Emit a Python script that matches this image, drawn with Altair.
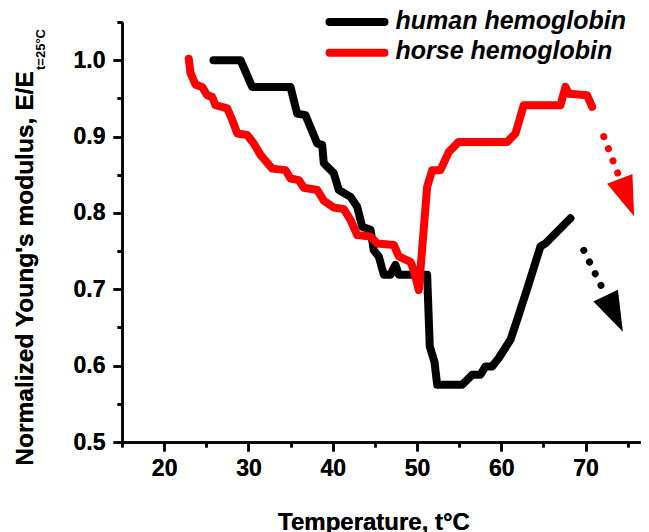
import altair as alt
import pandas as pd

# ---- data ----
human_t = [25.85, 29.06, 30.44, 34.99, 35.78, 36.77, 38.16, 38.75, 38.94, 40.12,
           40.72, 42.11, 42.90, 43.49, 44.48, 44.87, 45.46, 46.06, 46.85, 47.44,
           47.84, 51.20, 51.51, 52.07, 52.39, 55.36, 56.54, 57.53, 58.12, 58.91,
           59.70, 61.09, 61.88, 63.22, 64.64, 65.23, 68.20]
human_e = [1.000, 1.000, 0.965, 0.965, 0.930, 0.928, 0.891, 0.889, 0.865, 0.852,
           0.830, 0.821, 0.808, 0.782, 0.778, 0.751, 0.743, 0.719, 0.719, 0.732,
           0.719, 0.719, 0.625, 0.605, 0.575, 0.575, 0.588, 0.588, 0.599, 0.599,
           0.610, 0.634, 0.660, 0.706, 0.756, 0.760, 0.793]

horse_t = [22.92, 23.13, 23.72, 24.51, 25.11, 25.70, 26.09, 27.48, 28.07, 28.67,
           29.85, 30.63, 31.43, 32.82, 34.39, 34.99, 35.97, 36.57, 38.16, 38.94,
           40.12, 41.31, 42.11, 42.90, 44.48, 45.27, 47.24, 47.84, 49.22, 49.61,
           50.21, 51.20, 51.80, 52.78, 53.77, 54.95, 60.69, 61.68, 62.66, 67.02,
           67.61, 68.00, 70.18, 70.78]
horse_e = [1.002, 0.983, 0.968, 0.965, 0.954, 0.952, 0.941, 0.937, 0.922, 0.904,
           0.902, 0.891, 0.876, 0.858, 0.856, 0.845, 0.843, 0.833, 0.830, 0.816,
           0.807, 0.805, 0.791, 0.771, 0.769, 0.760, 0.758, 0.743, 0.736, 0.725,
           0.699, 0.834, 0.856, 0.856, 0.880, 0.893, 0.893, 0.904, 0.941, 0.941,
           0.965, 0.956, 0.954, 0.939]

series_names = ["human hemoglobin", "horse hemoglobin"]
series_colors = ["#000000", "#FF0000"]

# trend arrows (dotted shaft + head), one per series
arrow_t0 = [69.78, 72.15]
arrow_e0 = [0.751, 0.900]
arrow_t1 = [71.96, 73.81]
arrow_e1 = [0.702, 0.852]
head_t = [73.40, 74.90]
head_e = [0.668, 0.820]
head_angle = [154.5, 159.0]

x_major = [20, 30, 40, 50, 60, 70]
x_minor = [15, 25, 35, 45, 55, 65, 75]
y_major = [0.5, 0.6, 0.7, 0.8, 0.9, 1.0]
y_minor = [0.55, 0.65, 0.75, 0.85, 0.95, 1.05]

FONT = "Liberation Sans"

xscale = alt.Scale(domain=[15, 76.57], nice=False, zero=False)
yscale = alt.Scale(domain=[0.5, 1.05], nice=False, zero=False)

human_df = pd.DataFrame({"t": human_t, "e": human_e, "i": range(len(human_t))})
horse_df = pd.DataFrame({"t": horse_t, "e": horse_e, "i": range(len(horse_t))})

axis_common = dict(domainColor="black", domainWidth=2.5, tickColor="black", tickWidth=2.5,
                   labelColor="black", labelFont=FONT, labelFontWeight="bold",
                   labelFontSize=23, grid=False, titleColor="black", titleFont=FONT,
                   titleFontWeight="bold")

x_axis = alt.Axis(values=x_major, format="d", orient="bottom", tickSize=9, labelPadding=6,
                  title="Temperature, t°C", titleFontSize=24, titleX=251.5, titleY=87,
                  titleBaseline="alphabetic", titleAlign="center", **axis_common)
y_axis = alt.Axis(values=y_major, format=".1f", orient="left", tickSize=9, labelPadding=8,
                  title="Normalized Young's modulus, E/E", titleFontSize=24.5,
                  titleAngle=270, titleX=-89.5, titleY=246, titleBaseline="alphabetic",
                  titleAlign="center", **axis_common)

x_axis_minor = alt.Axis(values=x_minor, orient="bottom", tickSize=5, labels=False,
                        domain=False, title="", tickColor="black", tickWidth=2.5, grid=False)
y_axis_minor = alt.Axis(values=y_minor, orient="left", tickSize=5, labels=False,
                        domain=False, title="", tickColor="black", tickWidth=2.5, grid=False)

line_style = dict(strokeWidth=8, strokeJoin="round", strokeCap="round")

human_line = alt.Chart(human_df).mark_line(color=series_colors[0], **line_style).encode(
    x=alt.X("t:Q", scale=xscale, axis=x_axis),
    y=alt.Y("e:Q", scale=yscale, axis=y_axis),
    order="i:Q",
)
horse_line = alt.Chart(horse_df).mark_line(color=series_colors[1], **line_style).encode(
    x=alt.X("t:Q", scale=xscale, axis=x_axis),
    y=alt.Y("e:Q", scale=yscale, axis=y_axis),
    order="i:Q",
)

shaft_rows = []
for k in range(2):
    shaft_rows.append({"s": series_names[k], "t": arrow_t0[k], "e": arrow_e0[k], "i": 0})
    shaft_rows.append({"s": series_names[k], "t": arrow_t1[k], "e": arrow_e1[k], "i": 1})
shaft_df = pd.DataFrame(shaft_rows)
head_df = pd.DataFrame({"s": series_names, "t": head_t, "e": head_e, "a": head_angle})

color_enc = alt.Color("s:N", scale=alt.Scale(domain=series_names, range=series_colors), legend=None)

shafts = alt.Chart(shaft_df).mark_line(strokeWidth=7, strokeCap="round",
                                        strokeDash=[0.1, 12.9]).encode(
    x=alt.X("t:Q", scale=xscale, axis=x_axis_minor),
    y=alt.Y("e:Q", scale=yscale, axis=y_axis_minor),
    detail="s:N",
    order="i:Q",
    color=color_enc,
)
heads = alt.Chart(head_df).mark_point(shape="M0,-1L0.68,1L-0.68,1Z", filled=True, size=1600,
                                      opacity=1, strokeWidth=0).encode(
    x=alt.X("t:Q", scale=xscale, axis=x_axis_minor),
    y=alt.Y("e:Q", scale=yscale, axis=y_axis_minor),
    angle=alt.Angle("a:Q", scale=None),
    color=color_enc,
)

# legend drawn as marks
legend_lines = []
legend_texts = []
leg_y_line = [0, 30.7]
leg_y_text = [6.6, 37.3]
for k in range(2):
    d = pd.DataFrame({"label": [series_names[k]]})
    legend_lines.append(
        alt.Chart(d).mark_rule(color=series_colors[k], strokeWidth=8, strokeCap="round").encode(
            x=alt.value(207.5), x2=alt.value(262.5), y=alt.value(leg_y_line[k]))
    )
    legend_texts.append(
        alt.Chart(d).mark_text(align="left", baseline="alphabetic", font=FONT, fontSize=25,
                               fontWeight="bold", fontStyle="italic", color="black").encode(
            text="label:N", x=alt.value(273.5), y=alt.value(leg_y_text[k]))
    )

sub_df = pd.DataFrame({"txt": ["t=25°C"]})
subscript = alt.Chart(sub_df).mark_text(angle=270, align="left", baseline="alphabetic",
                                        font=FONT, fontSize=13, fontWeight="bold",
                                        color="black").encode(
    text="txt:N", x=alt.value(-77), y=alt.value(48))

chart = alt.layer(
    human_line, horse_line, shafts, heads, *legend_lines, *legend_texts, subscript
).resolve_axis(x="independent", y="independent").properties(
    width=519, height=420,
    autosize=alt.AutoSizeParams(type="none"),
    padding={"left": 114, "top": 14, "right": 0, "bottom": 90},
    background="white",
).configure_view(stroke=None)

chart.save("out.html", embed_options={"renderer": "svg", "actions": False})
